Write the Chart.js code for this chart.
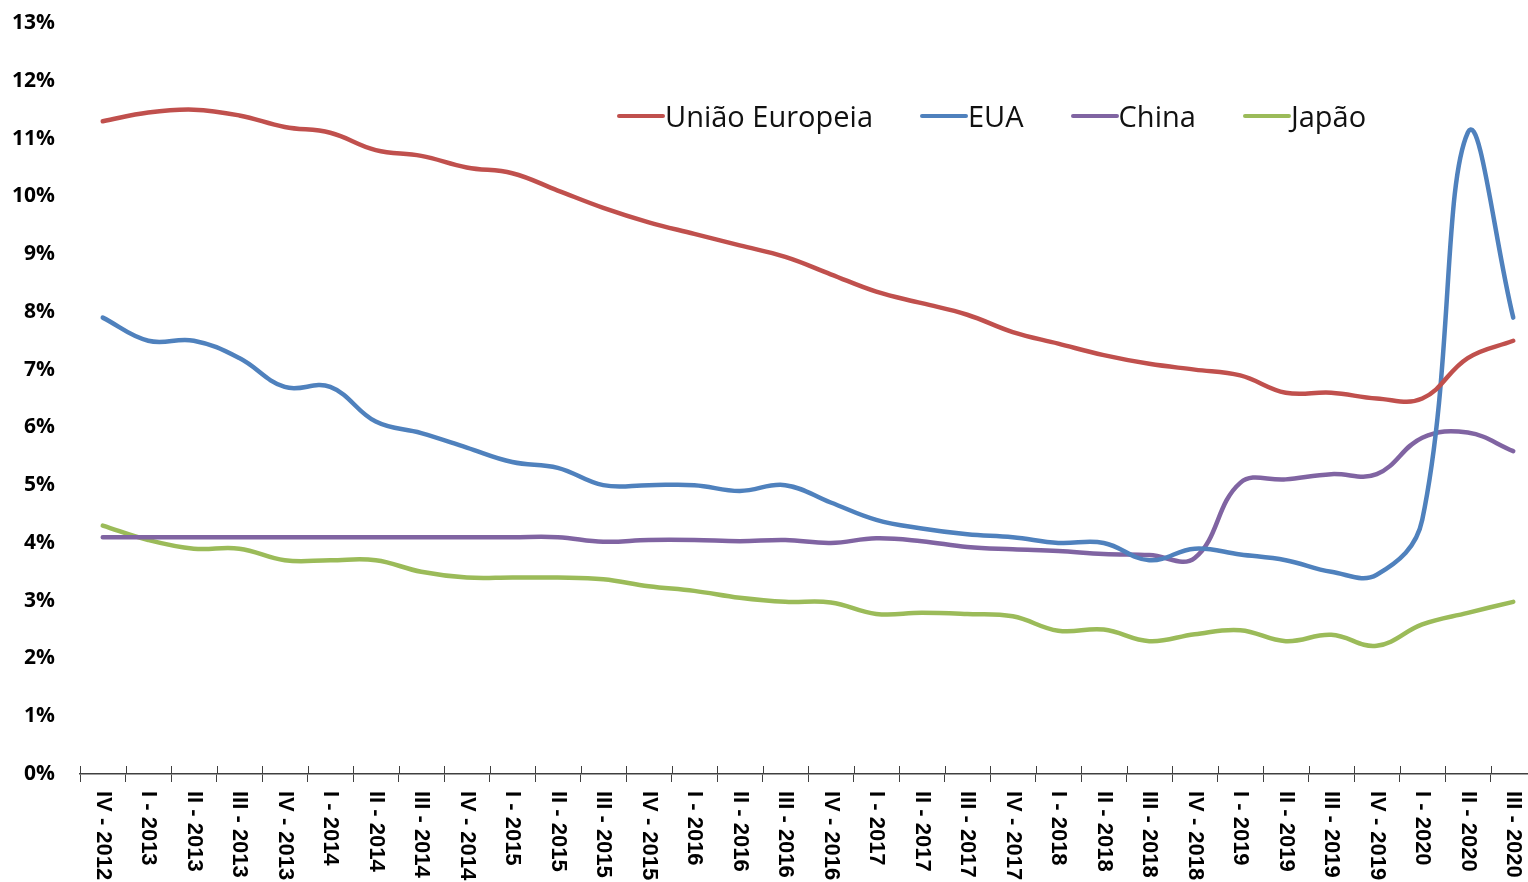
<!DOCTYPE html>
<html>
<head>
<meta charset="utf-8">
<script src="https://cdn.jsdelivr.net/npm/chart.js@4.4.1/dist/chart.umd.min.js"></script>
<style>
  html, body { margin: 0; padding: 0; background: #fff; overflow: hidden; }
  #wrap { position: relative; width: 1536px; height: 882px; }
  #legend { position: absolute; left: 617px; top: 96px; display: flex; align-items: center;
            font-family: "Open Sans", sans-serif; font-size: 29px; color: #111; }
  #legend .item { display: flex; align-items: center; margin-right: 47px; }
  #legend .swatch { width: 48px; height: 4px; border-radius: 2px; }
</style>
</head>
<body>
<div id="wrap">
  <canvas id="chart"></canvas>
  <div id="legend"></div>
</div>
<script>
const quarters = [
  'IV - 2012',
  'I - 2013', 'II - 2013', 'III - 2013', 'IV - 2013',
  'I - 2014', 'II - 2014', 'III - 2014', 'IV - 2014',
  'I - 2015', 'II - 2015', 'III - 2015', 'IV - 2015',
  'I - 2016', 'II - 2016', 'III - 2016', 'IV - 2016',
  'I - 2017', 'II - 2017', 'III - 2017', 'IV - 2017',
  'I - 2018', 'II - 2018', 'III - 2018', 'IV - 2018',
  'I - 2019', 'II - 2019', 'III - 2019', 'IV - 2019',
  'I - 2020', 'II - 2020', 'III - 2020'
];

const uniaoEuropeia = [11.3, 11.45, 11.5, 11.4, 11.2, 11.1, 10.8, 10.7, 10.5, 10.4, 10.1, 9.8,
  9.55, 9.35, 9.15, 8.95, 8.65, 8.35, 8.15, 7.95, 7.65, 7.45, 7.25, 7.1,
  7.0, 6.9, 6.6, 6.6, 6.5, 6.5, 7.2, 7.5];
const eua = [7.9, 7.5, 7.5, 7.2, 6.7, 6.7, 6.1, 5.9, 5.65, 5.4, 5.3, 5.0,
  5.0, 5.0, 4.9, 5.0, 4.7, 4.4, 4.25, 4.15, 4.1, 4.0, 4.0, 3.7,
  3.9, 3.8, 3.7, 3.5, 3.45, 4.4, 11.1, 7.9];
const china = [4.1, 4.1, 4.1, 4.1, 4.1, 4.1, 4.1, 4.1, 4.1, 4.1, 4.1, 4.02,
  4.05, 4.05, 4.03, 4.05, 4.0, 4.08, 4.03, 3.93, 3.89, 3.86, 3.81, 3.79,
  3.74, 5.04, 5.1, 5.19, 5.19, 5.82, 5.91, 5.59];
const japao = [4.3, 4.05, 3.9, 3.9, 3.7, 3.7, 3.7, 3.5, 3.4, 3.4, 3.4, 3.37,
  3.25, 3.17, 3.05, 2.98, 2.97, 2.77, 2.79, 2.77, 2.73, 2.48, 2.5, 2.3,
  2.42, 2.49, 2.3, 2.41, 2.22, 2.59, 2.79, 2.98];

const yTicks = [0, 1, 2, 3, 4, 5, 6, 7, 8, 9, 10, 11, 12, 13];

function series(label, data, color) {
  return {
    label: label,
    data: data,
    borderColor: color,
    backgroundColor: color,
    borderWidth: 4.5,
    borderCapStyle: 'round',
    pointRadius: 0,
    tension: 0.4,
    fill: false
  };
}

// labels rotated clockwise + tick marks crossing the axis
const quarterLabels = {
  id: 'quarterLabels',
  afterDraw(chart) {
    const xs = chart.scales.x;
    const ctx = chart.ctx;
    ctx.save();
    ctx.strokeStyle = '#404040';
    ctx.lineWidth = 1;
    for (let i = 0; i <= quarters.length; i++) {
      const x = Math.round(xs.getPixelForValue(i - 0.5)) + 0.5;
      ctx.beginPath();
      ctx.moveTo(x, xs.top - 8);
      ctx.lineTo(x, xs.top);
      ctx.stroke();
    }
    ctx.fillStyle = '#000';
    ctx.font = 'bold 22px "Liberation Sans", Arial, sans-serif';
    ctx.textAlign = 'left';
    ctx.textBaseline = 'middle';
    quarters.forEach((q, i) => {
      ctx.save();
      ctx.translate(xs.getPixelForValue(i), xs.top + 17);
      ctx.rotate(Math.PI / 2);
      ctx.fillText(q, 0, 0);
      ctx.restore();
    });
    ctx.restore();
  }
};

const ctx = document.getElementById('chart').getContext('2d');
const chart = new Chart(ctx, {
  type: 'line',
  data: {
    labels: quarters,
    datasets: [
      series('União Europeia', uniaoEuropeia, '#C0504D'),
      series('EUA', eua, '#4F81BD'),
      series('China', china, '#8064A2'),
      series('Japão', japao, '#9BBB59')
    ]
  },
  options: {
    responsive: true,
    maintainAspectRatio: false,
    animation: false,
    layout: { padding: { top: 23, right: 0, bottom: 0, left: 0 } },
    plugins: {
      legend: { display: false },
      tooltip: { enabled: false }
    },
    scales: {
      x: {
        offset: true,
        afterFit(scale) { scale.height = 108; },
        grid: {
          offset: true,
          drawOnChartArea: false,
          drawTicks: true,
          tickLength: 8,
          color: '#404040'
        },
        border: { display: true, color: '#404040', width: 1.5 },
        ticks: { display: false }
      },
      y: {
        min: 0,
        max: 13,
        afterFit(scale) { scale.width = 80; },
        afterBuildTicks(scale) { scale.ticks = yTicks.map(v => ({ value: v })); },
        grid: {
          display: true,
          drawOnChartArea: false,
          drawTicks: true,
          tickLength: 22,
          color: 'rgba(0,0,0,0)'
        },
        border: { display: false },
        ticks: {
          padding: 3,
          color: '#000',
          font: { family: '"Open Sans", sans-serif', size: 21, weight: 'bold' },
          callback: v => v + '%'
        }
      }
    }
  },
  plugins: [quarterLabels]
});

// legend built from the datasets
const legendEl = document.getElementById('legend');
chart.data.datasets.forEach(ds => {
  const item = document.createElement('div');
  item.className = 'item';
  const sw = document.createElement('span');
  sw.className = 'swatch';
  sw.style.background = ds.borderColor;
  const txt = document.createElement('span');
  txt.textContent = ds.label;
  item.appendChild(sw);
  item.appendChild(txt);
  legendEl.appendChild(item);
});
</script>
</body>
</html>
